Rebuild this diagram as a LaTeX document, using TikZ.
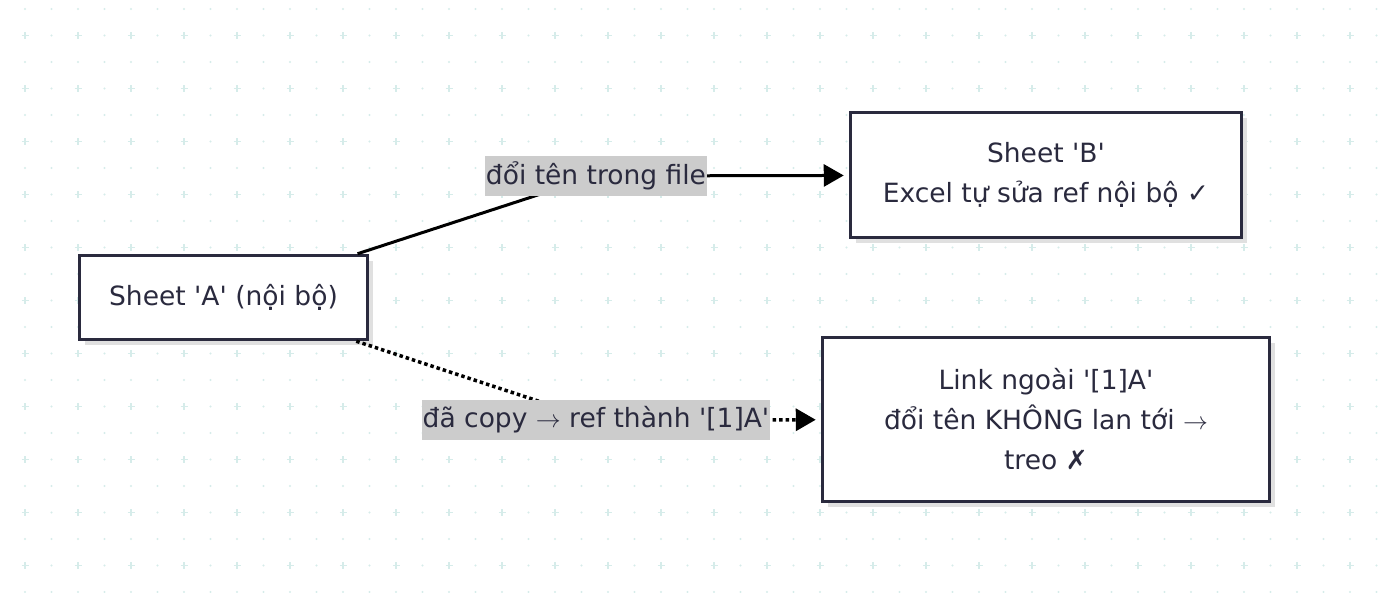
\documentclass[tikz,border=0pt]{standalone}
\usepackage{fontspec}
\setmainfont{DejaVu Sans}
\usetikzlibrary{arrows.meta,shadows}
\definecolor{ink}{HTML}{2A2A3E}
\definecolor{gridc}{HTML}{D6ECEA}
\definecolor{lblbg}{HTML}{CCCCCC}
\newcommand\myq{\textquotesingle}
\begin{document}
\begin{tikzpicture}[x=1pt,y=-1pt,
  box/.style={draw=ink, line width=3.5pt, fill=white, text=ink, align=center,
    font=\fontsize{26.5}{40}\selectfont, inner sep=0pt,
    drop shadow={shadow xshift=5pt, shadow yshift=-5pt, fill=black!12, opacity=1}},
  lbl/.style={fill=lblbg, text=ink, font=\fontsize{26.5}{30}\selectfont,
    inner xsep=1pt, inner ysep=0pt, minimum height=40pt},
  edge/.style={black, line width=3pt, -{Triangle[length=20pt,width=22pt]}, shorten >=5pt},
  dotedge/.style={edge, line width=3.5pt, dash pattern=on 3.5pt off 3pt}]
\useasboundingbox (0,0) rectangle (1379,592);
\fill[white] (0,0) rectangle (1379,592);
\foreach \i in {0,...,51}{\foreach \j in {0,...,22}{
  \pgfmathsetmacro\gx{25+26.5*\i}\pgfmathsetmacro\gy{9+26.5*\j}
  \ifodd\i
    \fill[gridc] (\gx,\gy) circle (1.1pt);
  \else
    \ifodd\j
      \draw[gridc,line width=1.3pt] (\gx-3.5,\gy) -- (\gx+3.5,\gy) (\gx,\gy-3.5) -- (\gx,\gy+3.5);
    \else
      \fill[gridc] (\gx,\gy) circle (1.1pt);
    \fi
  \fi}}
\node[box, minimum width=288pt, minimum height=84pt] (A) at (223.5,297.5) {Sheet \myq A\myq{} (nội bộ)};
\node[box, minimum width=391pt, minimum height=125pt] (B) at (1046,175) {Sheet \myq B\myq\\Excel tự sửa ref nội bộ ✓};
\node[box, minimum width=447pt, minimum height=164pt] (C) at (1046,419.5) {Link ngoài \myq[1]A\myq\\đổi tên KHÔNG lan tới $\rightarrow$\\treo ✗};
\coordinate (p1) at (596,176);
\coordinate (p2) at (596,420);
\draw[edge] (A) -- (p1) -- (B);
\draw[dotedge] (A) -- (p2) -- (C);
\node[lbl] (l1) at (p1) {đổi tên trong file};
\node[lbl] (l2) at (p2) {đã copy $\rightarrow$ ref thành \myq[1]A\myq};
\end{tikzpicture}
\end{document}
